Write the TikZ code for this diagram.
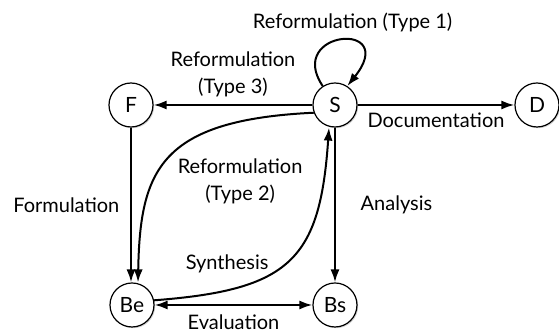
\documentclass[tikz,border=0pt]{standalone}
\usepackage{fontspec}
\setmainfont{Lato}
\usetikzlibrary{arrows.meta, positioning, shadows}

\begin{document}
\begin{tikzpicture}[x=0.5pt, y=-0.5pt, >={Latex[length=6.5pt, width=4.5pt]}, line width=1pt,
    state/.style={draw, circle, fill=white, line width=0.6pt, minimum size=22pt, inner sep=0pt,
        font=\fontsize{10.5}{12}\selectfont,
        drop shadow={opacity=0.35, shadow xshift=0.6pt, shadow yshift=-0.6pt}},
    lbl/.style={align=center, font=\fontsize{10}{13.5}\selectfont}]
    \useasboundingbox (0,0) rectangle (559,331);

    \node [state] (F) at (131,105) {F};
    \node [state] (S) at (335,105) {S};
    \node [state] (D) at (537,105) {D};
    \node [state] (Be) at (132,305) {Be};
    \node [state] (Bs) at (335,305) {Bs};

    \draw [->] (S) -- node[lbl, above] {Reformulation\\(Type 3)} (F);
    \draw [->] (S) -- node[lbl, below] {Documentation} (D);
    \draw [->] (S.123) .. controls (285,30) and (400,20) .. node[lbl, anchor=center, xshift=6pt, yshift=9pt] {Reformulation (Type 1)} (S.57);
    \draw [->] (F) -- node[lbl, left=2pt] {Formulation} (F |- Be.north);
    \draw [->] (S) -- node[lbl, right=9pt] {Analysis} (Bs);
    % curved reformulation and synthesis
    \draw [->] (S.200) .. controls (160,120) and (140,170) .. node[lbl, pos=0.55, anchor=west, xshift=4pt, yshift=-7.5pt] {Reformulation\\(Type 2)} ([xshift=3pt]Be.north);
    \draw [->] (Be.12) .. controls (290,290) and (320,260) .. node[lbl, pos=0.3, anchor=center, xshift=-11.5pt, yshift=10pt] {Synthesis} ([xshift=-3pt]S.south);
    \draw [<->] (Be) -- node[lbl, below=1pt] {Evaluation} (Bs);
\end{tikzpicture}
\end{document}
